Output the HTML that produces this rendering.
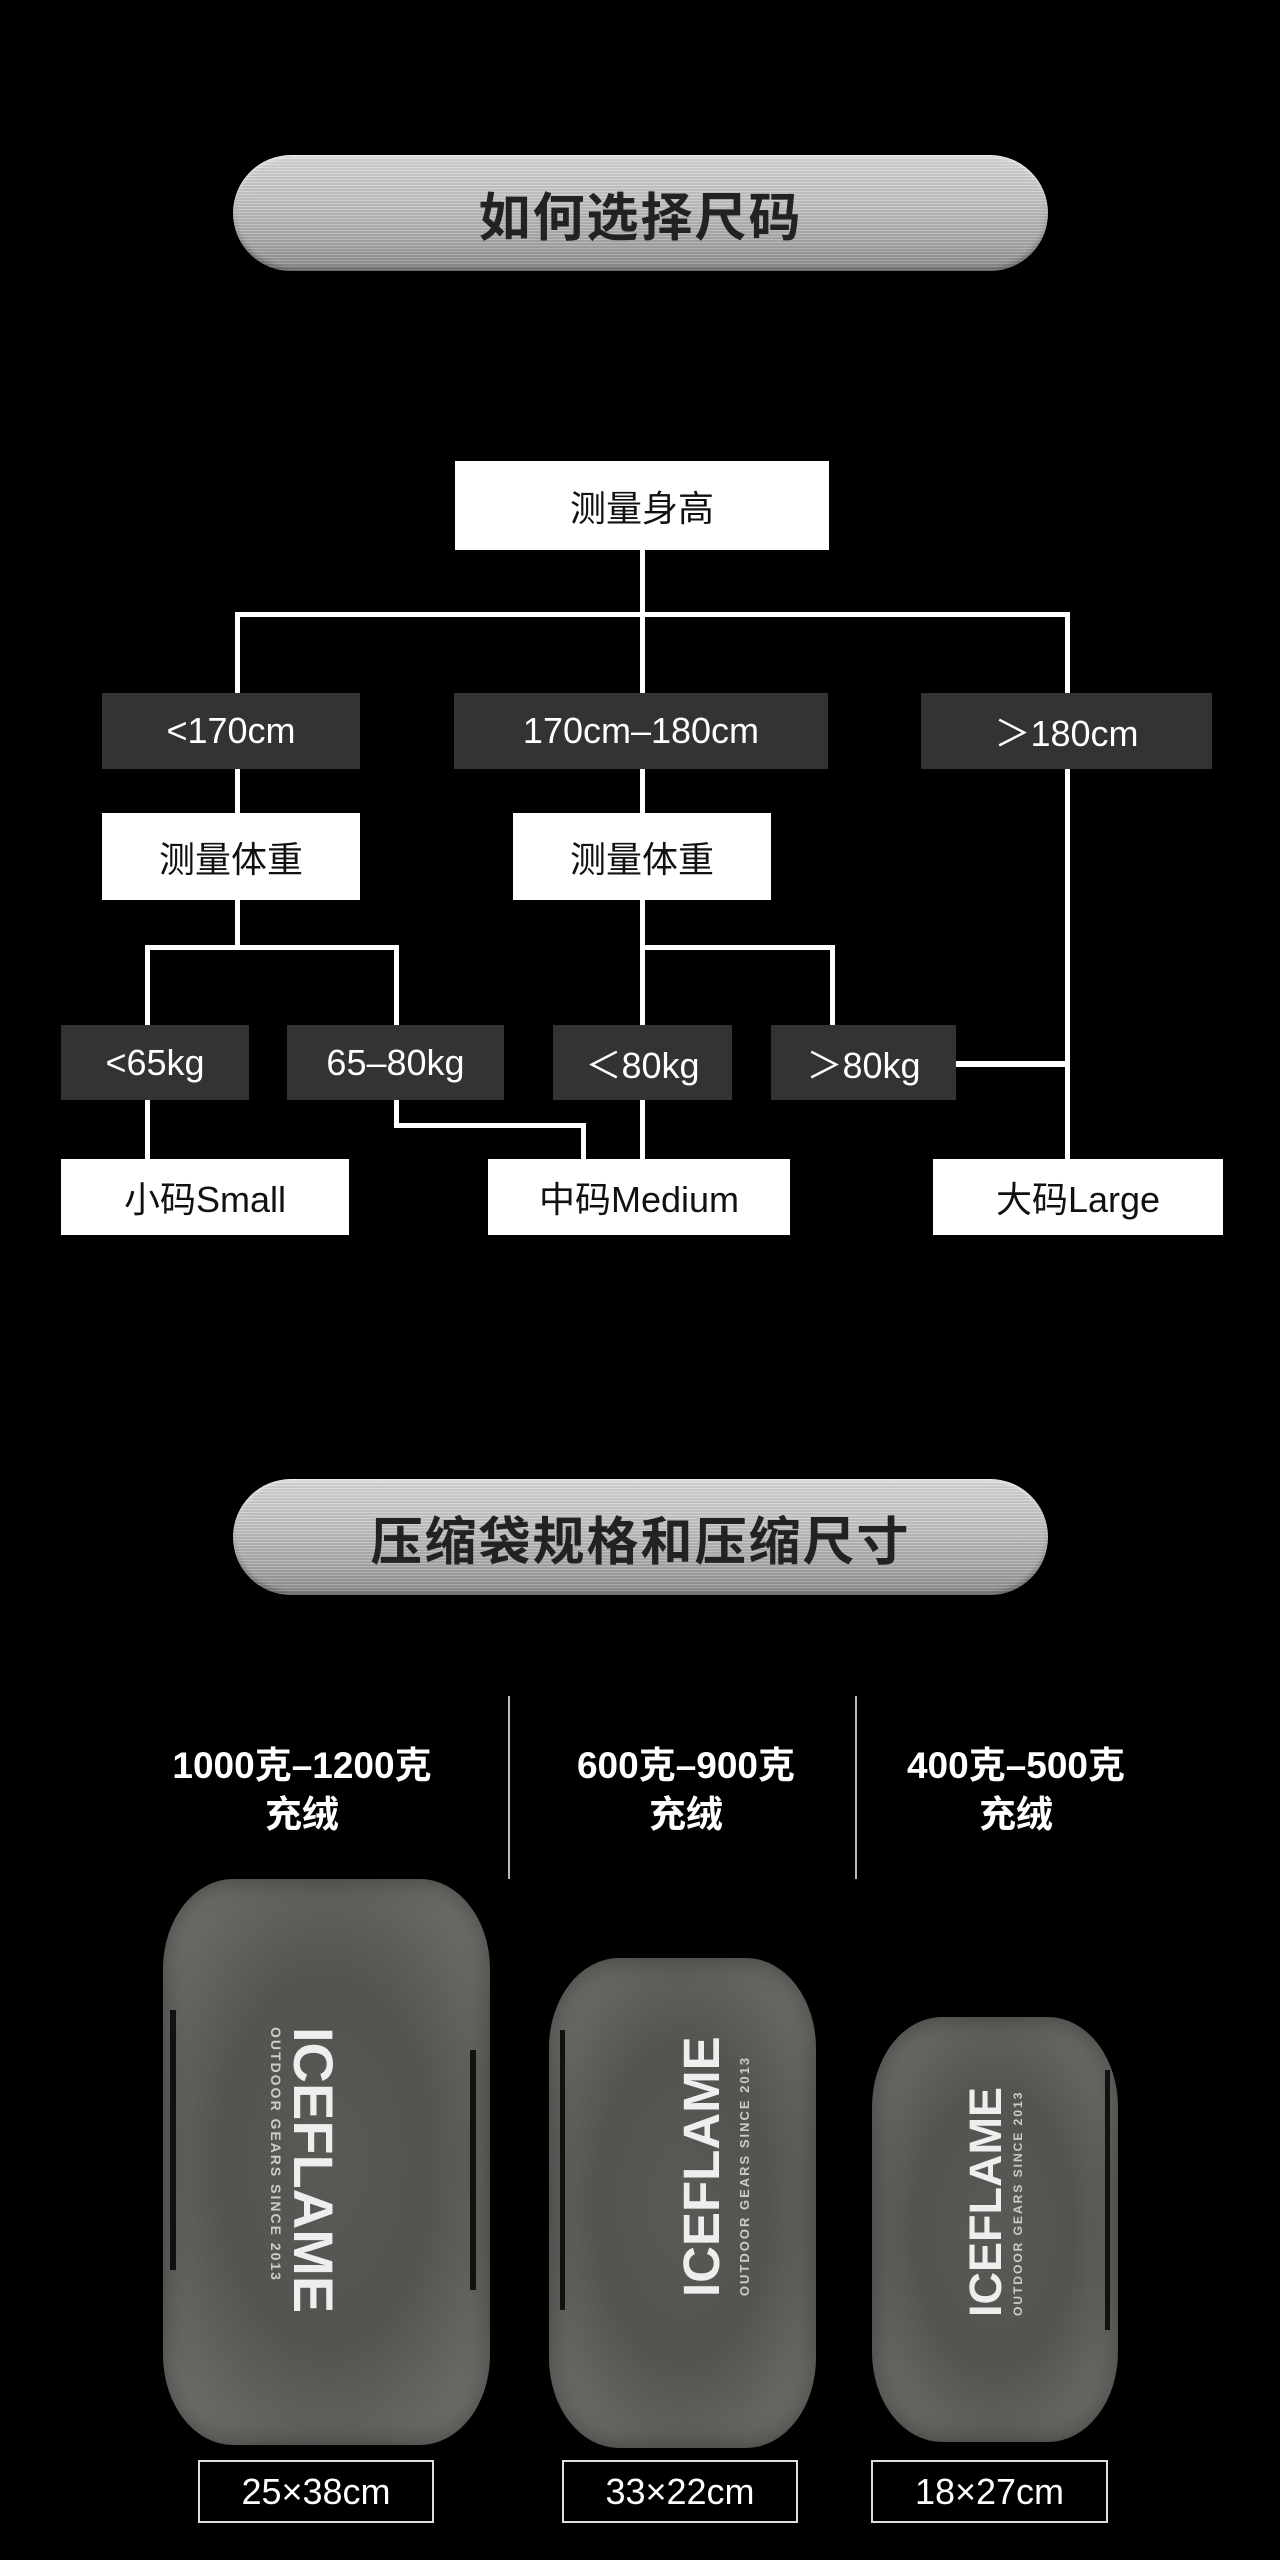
<!DOCTYPE html>
<html><head><meta charset="utf-8"><style>
*{margin:0;padding:0;box-sizing:border-box}
body{width:1280px;height:2560px;background:#000;position:relative;overflow:hidden;font-family:"Liberation Sans","Noto Sans CJK SC",sans-serif}
.a{position:absolute}
.pill{position:absolute;left:233px;width:815px;height:116px;border-radius:58px;
background:repeating-linear-gradient(180deg,rgba(255,255,255,.18) 0 1px,rgba(0,0,0,.06) 1px 3px),linear-gradient(180deg,#d8d8d8 0%,#c4c4c4 40%,#a9a9a9 75%,#8e8e8e 100%);
box-shadow:inset 0 2px 3px rgba(255,255,255,.6),inset 0 -3px 5px rgba(0,0,0,.3);
display:flex;align-items:center;justify-content:center;color:#222;font-size:52px;letter-spacing:2px;font-weight:bold}
.b{position:absolute;display:flex;align-items:center;justify-content:center;font-size:36px}
.w{background:#fff;color:#111}
.d{background:#333;color:#fff}
.l{position:absolute;background:#fff}
.t{position:absolute;color:#fff;font-size:37px;text-align:center;line-height:49px;font-weight:bold}
.bag{position:absolute;border-radius:70px/90px;
background:radial-gradient(ellipse at 50% 50%,#5b5955 0%,#55534f 45%,#6a6864 80%,#7c7a76 100%);
box-shadow:inset 0 0 25px rgba(0,0,0,.4)}
.logo{position:absolute;transform:rotate(-90deg);transform-origin:center;color:#eee;font-weight:bold;white-space:nowrap;text-align:center}
.lb{position:absolute;border:2px solid #ddd;color:#fff;font-size:36px;display:flex;align-items:center;justify-content:center}
</style></head><body>
<div class="pill" style="top:155px">如何选择尺码</div>

<div class="l" style="left:640px;top:550px;width:5px;height:143px"></div>
<div class="l" style="left:235px;top:612px;width:835px;height:5px"></div>
<div class="l" style="left:235px;top:612px;width:5px;height:81px"></div>
<div class="l" style="left:1065px;top:612px;width:5px;height:81px"></div>
<div class="l" style="left:235px;top:769px;width:5px;height:44px"></div>
<div class="l" style="left:640px;top:769px;width:5px;height:44px"></div>
<div class="l" style="left:1065px;top:769px;width:5px;height:390px"></div>
<div class="l" style="left:235px;top:900px;width:5px;height:47px"></div>
<div class="l" style="left:145px;top:945px;width:254px;height:5px"></div>
<div class="l" style="left:145px;top:945px;width:5px;height:80px"></div>
<div class="l" style="left:394px;top:945px;width:5px;height:80px"></div>
<div class="l" style="left:640px;top:900px;width:5px;height:125px"></div>
<div class="l" style="left:640px;top:945px;width:195px;height:5px"></div>
<div class="l" style="left:830px;top:945px;width:5px;height:80px"></div>
<div class="l" style="left:145px;top:1100px;width:5px;height:59px"></div>
<div class="l" style="left:394px;top:1100px;width:5px;height:28px"></div>
<div class="l" style="left:394px;top:1123px;width:192px;height:5px"></div>
<div class="l" style="left:581px;top:1123px;width:5px;height:36px"></div>
<div class="l" style="left:640px;top:1100px;width:5px;height:59px"></div>
<div class="l" style="left:956px;top:1061px;width:114px;height:6px"></div>

<div class="b w" style="left:455px;top:461px;width:374px;height:89px">测量身高</div>
<div class="b d" style="left:102px;top:693px;width:258px;height:76px">&lt;170cm</div>
<div class="b d" style="left:454px;top:693px;width:374px;height:76px">170cm–180cm</div>
<div class="b d" style="left:921px;top:693px;width:291px;height:76px">＞180cm</div>
<div class="b w" style="left:102px;top:813px;width:258px;height:87px">测量体重</div>
<div class="b w" style="left:513px;top:813px;width:258px;height:87px">测量体重</div>
<div class="b d" style="left:61px;top:1025px;width:188px;height:75px">&lt;65kg</div>
<div class="b d" style="left:287px;top:1025px;width:217px;height:75px">65–80kg</div>
<div class="b d" style="left:553px;top:1025px;width:179px;height:75px">＜80kg</div>
<div class="b d" style="left:771px;top:1025px;width:185px;height:75px">＞80kg</div>
<div class="b w" style="left:61px;top:1159px;width:288px;height:76px">小码Small</div>
<div class="b w" style="left:488px;top:1159px;width:302px;height:76px">中码Medium</div>
<div class="b w" style="left:933px;top:1159px;width:290px;height:76px">大码Large</div>

<div class="pill" style="top:1479px">压缩袋规格和压缩尺寸</div>

<div class="a" style="left:508px;top:1696px;width:2px;height:183px;background:#bbb"></div>
<div class="a" style="left:855px;top:1696px;width:2px;height:183px;background:#bbb"></div>
<div class="t" style="left:102px;top:1741px;width:400px">1000克–1200克<br>充绒</div>
<div class="t" style="left:486px;top:1741px;width:400px">600克–900克<br>充绒</div>
<div class="t" style="left:816px;top:1741px;width:400px">400克–500克<br>充绒</div>

<div class="bag" style="left:163px;top:1879px;width:327px;height:566px"></div>
<div class="bag" style="left:549px;top:1958px;width:267px;height:490px"></div>
<div class="bag" style="left:872px;top:2017px;width:246px;height:425px"></div>
<div class="a" style="left:170px;top:2010px;width:6px;height:260px;background:#111"></div>
<div class="a" style="left:470px;top:2050px;width:6px;height:240px;background:#111"></div>
<div class="a" style="left:560px;top:2030px;width:5px;height:280px;background:#111"></div>
<div class="a" style="left:1105px;top:2070px;width:5px;height:260px;background:#111"></div>

<div class="logo" style="left:186px;top:2126px;width:254px;height:56px;font-size:56px;line-height:56px;transform:rotate(90deg)">ICEFLAME</div>
<div class="logo" style="left:149px;top:2146px;width:254px;height:16px;font-size:14px;line-height:16px;letter-spacing:2px;color:#ccc;transform:rotate(90deg)">OUTDOOR GEARS SINCE 2013</div>
<div class="logo" style="left:580px;top:2150px;width:244px;height:50px;font-size:51px;line-height:50px">ICEFLAME</div>
<div class="logo" style="left:623px;top:2168px;width:244px;height:16px;font-size:13px;line-height:16px;letter-spacing:2px;color:#ccc">OUTDOOR GEARS SINCE 2013</div>
<div class="logo" style="left:880px;top:2188px;width:212px;height:46px;font-size:45px;line-height:46px">ICEFLAME</div>
<div class="logo" style="left:912px;top:2203px;width:212px;height:14px;font-size:12px;line-height:14px;letter-spacing:2px;color:#ccc">OUTDOOR GEARS SINCE 2013</div>

<div class="lb" style="left:198px;top:2460px;width:236px;height:63px">25×38cm</div>
<div class="lb" style="left:562px;top:2460px;width:236px;height:63px">33×22cm</div>
<div class="lb" style="left:871px;top:2460px;width:237px;height:63px">18×27cm</div>
</body></html>
